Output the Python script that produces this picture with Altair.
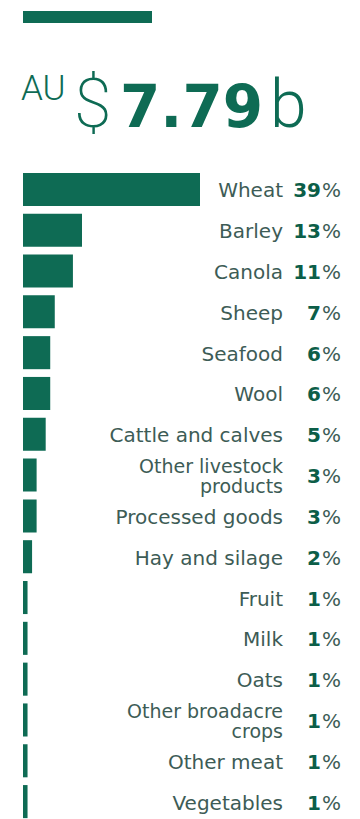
import altair as alt
import pandas as pd

categories = ["Wheat", "Barley", "Canola", "Sheep", "Seafood", "Wool",
              "Cattle and calves", "Other livestock\nproducts", "Processed goods",
              "Hay and silage", "Fruit", "Milk", "Oats", "Other broadacre\ncrops",
              "Other meat", "Vegetables"]
shares = [39, 13, 11, 7, 6, 6, 5, 3, 3, 2, 1, 1, 1, 1, 1, 1]

title_prefix = "AU"
title_currency = "$"
title_value = "7.79"
title_suffix = "b"

GREEN = "#0e6b54"
DARK = "#0c5e48"
LABEL = "#3d5c56"

df = pd.DataFrame({"category": categories, "share": shares})
df["pct"] = df["share"].astype(str)
df["multi"] = df["category"].str.contains("\n")

y = alt.Y("category:N", sort=categories, axis=None,
          scale=alt.Scale(range=[169, 822], paddingInner=0.19, paddingOuter=0.095))

base = alt.Chart(df)

bars = base.mark_bar(color=GREEN).encode(
    x=alt.X("share:Q", axis=None, scale=alt.Scale(domain=[0, 39], range=[23, 200])),
    y=y,
)

FS = 20
cat_single = base.transform_filter("!datum.multi").mark_text(
    align="right", baseline="middle", font="DejaVu Sans",
    fontSize=FS, color=LABEL, dy=2).encode(
    x=alt.value(283), y=y, text="category:N")

cat_multi = base.transform_filter("datum.multi").mark_text(
    align="right", baseline="middle", font="DejaVu Sans",
    fontSize=FS - 1, color=LABEL, lineBreak="\n", lineHeight=20, dy=-8).encode(
    x=alt.value(283), y=y, text="category:N")

num_text = base.mark_text(align="right", baseline="middle", font="DejaVu Sans",
                          fontSize=FS, fontWeight="bold", color=DARK, dy=2).encode(
    x=alt.value(321), y=y, text="pct:N")

pct_text = base.mark_text(align="left", baseline="middle", font="DejaVu Sans",
                          fontSize=FS, color=LABEL, dy=2).encode(
    x=alt.value(322), y=y, text=alt.value("%"))

one = alt.Chart(pd.DataFrame({"a": [0]}))

top_rule = one.mark_rect(color=GREEN).encode(
    x=alt.value(23), x2=alt.value(152), y=alt.value(11), y2=alt.value(23))

t_au = one.mark_text(align="left", baseline="alphabetic", font="Roboto", fontWeight=300,
                     fontSize=35, color=GREEN).encode(
    x=alt.value(21), y=alt.value(100), text=alt.value(title_prefix))
t_cur = one.mark_text(align="left", baseline="alphabetic", font="Roboto", fontWeight=200,
                      fontSize=68, color=GREEN).encode(
    x=alt.value(74), y=alt.value(127), text=alt.value(title_currency))
t_val = one.mark_text(align="left", baseline="alphabetic", font="DejaVu Sans", fontWeight="bold",
                      fontSize=58, color=GREEN).encode(
    x=alt.value(120), y=alt.value(127), text=alt.value(title_value))
t_suf = one.mark_text(align="left", baseline="alphabetic", font="Roboto", fontWeight=300,
                      fontSize=66, color=GREEN).encode(
    x=alt.value(270), y=alt.value(127), text=alt.value(title_suffix))

chart = alt.layer(top_rule, t_au, t_cur, t_val, t_suf, bars, cat_single, cat_multi,
                  num_text, pct_text).properties(
    width=360, height=819,
    autosize=alt.AutoSizeParams(type="none"),
    padding=0,
    background="white",
).configure_view(stroke=None)

chart.save("out.html", embed_options={"renderer": "svg", "actions": False})
